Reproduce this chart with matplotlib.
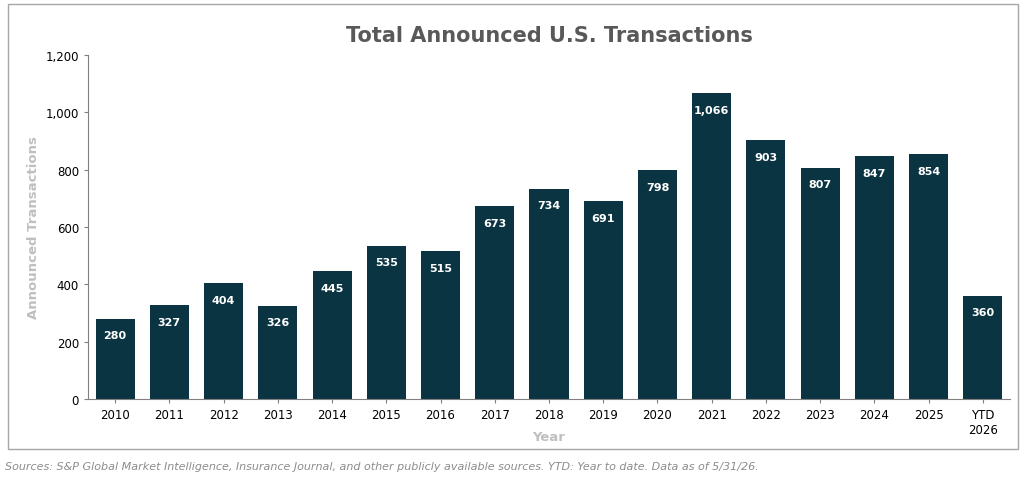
import matplotlib.pyplot as plt
from matplotlib.patches import Rectangle
from matplotlib.ticker import FuncFormatter

# === DATOS ===
years = ['2010', '2011', '2012', '2013', '2014', '2015', '2016', '2017', '2018',
         '2019', '2020', '2021', '2022', '2023', '2024', '2025', 'YTD\n2026']
deals = [280, 327, 404, 326, 445, 535, 515, 673, 734, 691, 798, 1066, 903, 807, 847, 854, 360]

BAR_COLOR = '#0b3443'
plt.rcParams['font.family'] = ['DejaVu Sans']

fig = plt.figure(figsize=(10.24, 4.85), dpi=100)
ax = fig.add_axes([88 / 1024, 85 / 485, 922 / 1024, 344 / 485])

# marco exterior
fig.patches.append(Rectangle((8 / 1024, 35 / 485), 1010 / 1024, 445 / 485,
                             transform=fig.transFigure, fill=False,
                             edgecolor='#a6a6a6', linewidth=1))

x = range(len(years))
bars = ax.bar(x, deals, width=0.72, color=BAR_COLOR)
for xi, v in zip(x, deals):
    ax.annotate(f'{v:,}', (xi, v), xytext=(0, -12), textcoords='offset points',
                ha='center', va='center', color='white', fontsize=8, fontweight='bold')

ax.set_xlim(-0.5, len(years) - 0.5)
ax.set_ylim(0, 1200)
ax.set_yticks(range(0, 1201, 200))
ax.yaxis.set_major_formatter(FuncFormatter(lambda v, p: f'{int(v):,}'))
ax.set_xticks(list(x))
ax.set_xticklabels(years)
ax.tick_params(labelsize=8.5, length=3, color='#808080')
for s in ['top', 'right']:
    ax.spines[s].set_visible(False)
for s in ['left', 'bottom']:
    ax.spines[s].set_color('#808080')

ax.set_title('Total Announced U.S. Transactions', fontsize=15, fontweight='bold',
             color='#595959', pad=10)
ax.set_xlabel('Year', fontsize=9.5, fontweight='bold', color='#bfbfbf', labelpad=-4)
ax.set_ylabel('Announced Transactions', fontsize=9.5, fontweight='bold', color='#bfbfbf')

fig.text(5 / 1024, 1 - 467 / 485,
         'Sources: S&P Global Market Intelligence, Insurance Journal, and other publicly '
         'available sources. YTD: Year to date. Data as of 5/31/26.',
         fontsize=8, style='italic', color='#8c8c8c', va='center')

fig.savefig('out.png', dpi=100)
